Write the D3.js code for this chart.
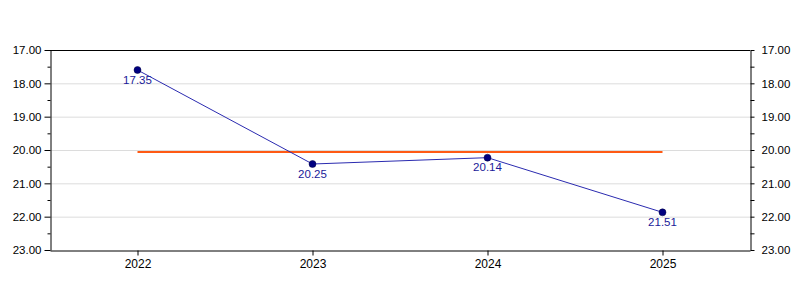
<!DOCTYPE html>
<html>
<head>
<meta charset="utf-8">
<script src="https://cdn.jsdelivr.net/npm/d3@7"></script>
<style>
  body { margin: 0; background: #fff; }
  svg text { font-family: "Liberation Sans", Arial, sans-serif; font-size: 11.5px; }
</style>
</head>
<body>
<div id="chart"></div>
<script>
const years = ['2022', '2023', '2024', '2025'];
// plotted positions
const values = [17.60, 20.42, 20.23, 21.87];
// point labels as printed in the picture
const labels = ['17.35', '20.25', '20.14', '21.51'];
const targetValue = 20.06;
const yTicks = [17, 18, 19, 20, 21, 22, 23];
const yMinorTicks = [17.5, 18.5, 19.5, 20.5, 21.5, 22.5];

const width = 800, height = 300;
const margin = { top: 50, right: 50, bottom: 50, left: 50 };
const w = width - margin.left - margin.right;
const h = height - margin.top - margin.bottom;

const svg = d3.select('#chart').append('svg')
  .attr('width', width)
  .attr('height', height)
  .append('g')
  .attr('transform', `translate(${margin.left},${margin.top})`);

const x = d3.scalePoint().domain(years).range([0, w]).padding(0.5);
const y = d3.scaleLinear().domain([17, 23]).range([0, h]);

// grid lines
svg.append('g')
  .selectAll('line')
  .data(yTicks.slice(1, -1))
  .enter().append('line')
  .attr('x1', 0).attr('x2', w)
  .attr('y1', d => y(d) + 0.5).attr('y2', d => y(d) + 0.5)
  .attr('stroke', '#dcdcdc');

// frame top
svg.append('line')
  .attr('x1', 0).attr('x2', w)
  .attr('y1', 0.5).attr('y2', 0.5)
  .attr('stroke', '#000');

const fmt = d3.format('.2f');

// left axis
const left = svg.append('g').attr('transform', 'translate(0.5,0)')
  .call(d3.axisLeft(y).tickValues(yTicks).tickFormat(fmt).tickSize(6).tickSizeOuter(0).tickPadding(3));
left.append('g').selectAll('line').data(yMinorTicks).enter().append('line')
  .attr('x1', -3).attr('x2', 0)
  .attr('y1', d => y(d) + 0.5).attr('y2', d => y(d) + 0.5)
  .attr('stroke', '#000');

// right axis
const right = svg.append('g').attr('transform', `translate(${w + 0.5},0)`)
  .call(d3.axisRight(y).tickValues(yTicks).tickFormat(fmt).tickSize(4).tickSizeOuter(0).tickPadding(7));
right.append('g').selectAll('line').data(yMinorTicks).enter().append('line')
  .attr('x1', 0).attr('x2', 4)
  .attr('y1', d => y(d) + 0.5).attr('y2', d => y(d) + 0.5)
  .attr('stroke', '#000');

// bottom axis
const bottom = svg.append('g').attr('transform', `translate(0,${h + 0.5})`)
  .call(d3.axisBottom(x).tickSize(5).tickSizeOuter(0).tickPadding(4));
bottom.selectAll('.tick text').style('font-size', '12px');

svg.selectAll('.domain').attr('stroke', '#000');
svg.selectAll('.tick line').attr('stroke', '#000');
svg.selectAll('.tick text').attr('fill', '#000');

// target line
svg.append('line')
  .attr('x1', x(years[0])).attr('x2', x(years[years.length - 1]))
  .attr('y1', y(targetValue)).attr('y2', y(targetValue))
  .attr('stroke', '#ff5a14')
  .attr('stroke-width', 2);

// series line
svg.append('path')
  .datum(values)
  .attr('fill', 'none')
  .attr('stroke', '#2b2bb0')
  .attr('stroke-width', 1)
  .attr('d', d3.line().x((d, i) => x(years[i])).y(d => y(d)));

// points
svg.selectAll('circle.pt')
  .data(values)
  .enter().append('circle')
  .attr('class', 'pt')
  .attr('cx', (d, i) => x(years[i]))
  .attr('cy', d => y(d))
  .attr('r', 3.5)
  .attr('fill', '#000080')
  .attr('stroke', '#000040')
  .attr('stroke-width', 0.5);

// point labels
svg.selectAll('text.lbl')
  .data(values)
  .enter().append('text')
  .attr('class', 'lbl')
  .attr('x', (d, i) => x(years[i]))
  .attr('y', d => y(d) + 13.5)
  .attr('text-anchor', 'middle')
  .attr('fill', '#1a1a99')
  .text((d, i) => labels[i]);
</script>
</body>
</html>
